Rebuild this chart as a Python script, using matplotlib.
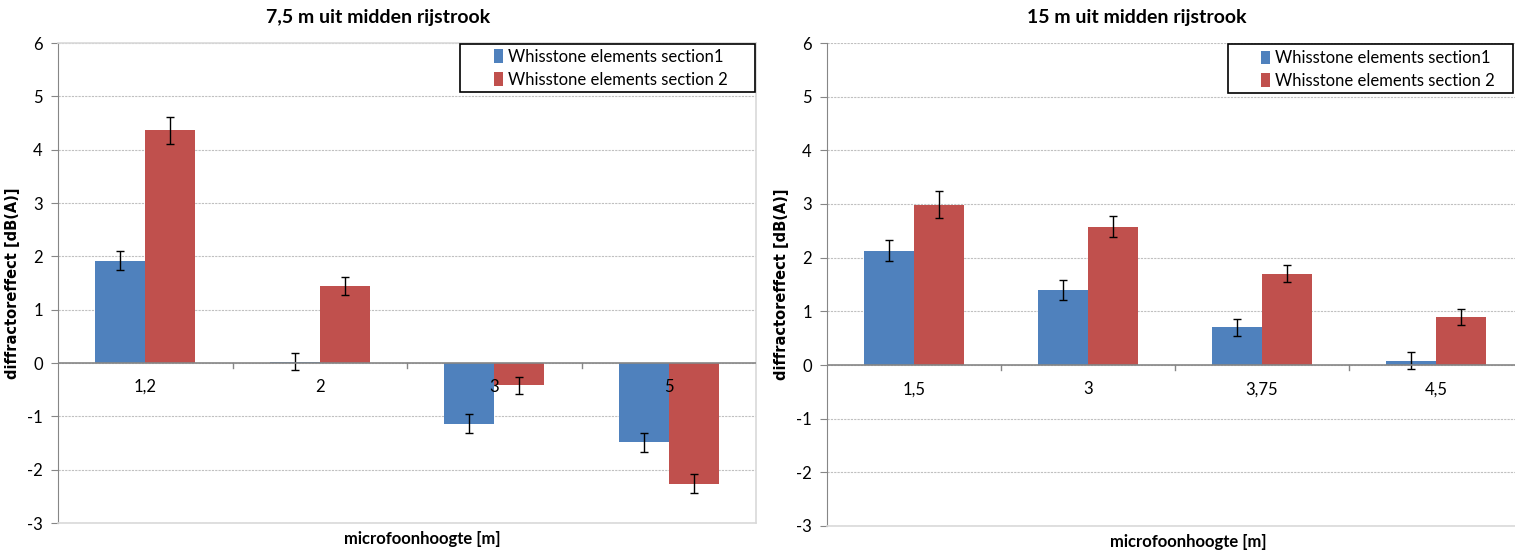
import matplotlib.pyplot as plt
import numpy as np
from matplotlib.patches import Rectangle

face = ['Lato', 'DejaVu Sans']

series_names = ['Whisstone elements section1', 'Whisstone elements section 2']

left_title = '7,5 m uit midden rijstrook'
left_cats = ['1,2', '2', '3', '5']
left_s1 = [1.92, 0.02, -1.14, -1.49]
left_s2 = [4.36, 1.44, -0.42, -2.26]
left_err1 = [0.18, 0.16, 0.18, 0.18]
left_err2 = [0.25, 0.17, 0.16, 0.17]

right_title = '15 m uit midden rijstrook'
right_cats = ['1,5', '3', '3,75', '4,5']
right_s1 = [2.13, 1.40, 0.70, 0.08]
right_s2 = [2.99, 2.58, 1.70, 0.90]
right_err1 = [0.19, 0.18, 0.16, 0.16]
right_err2 = [0.25, 0.20, 0.16, 0.15]

blue = '#4F81BD'
red = '#C0504D'

W, H = 1515, 552
fig = plt.figure(figsize=(W / 100, H / 100), dpi=100)


def panel(rect, cats, s1, s2, e1, e2, frame, legbox, legpos):
    ax = fig.add_axes(rect)
    x = np.arange(len(cats))
    w = 1 / 3.5
    ax.bar(x - w / 2, s1, w, color=blue, label=series_names[0], zorder=3)
    ax.bar(x + w / 2, s2, w, color=red, label=series_names[1], zorder=3)
    ax.errorbar(x - w / 2, s1, yerr=e1, fmt='none', ecolor='black',
                elinewidth=1, capsize=3, capthick=1, zorder=4)
    ax.errorbar(x + w / 2, s2, yerr=e2, fmt='none', ecolor='black',
                elinewidth=1, capsize=3, capthick=1, zorder=4)
    ax.set_xlim(-0.5, len(cats) - 0.5)
    ax.set_ylim(-3, 6)
    ax.set_yticks(range(-3, 7))
    ax.set_yticklabels([str(v) for v in range(-3, 7)], fontsize=12,
                       family=face)
    ax.yaxis.grid(True, linestyle=(0, (2, 1)), color='#c0c0c0',
                  linewidth=0.8, zorder=0)
    ax.tick_params(axis='y', length=5, color='#868686', pad=6)
    ax.set_xticks([])
    # zero axis with category boundary ticks
    ax.axhline(0, color='#868686', linewidth=1.2, zorder=5)
    for b in np.arange(0.5, len(cats) - 0.5, 1.0):
        ax.plot([b, b], [0, -0.1], color='#868686', linewidth=1, zorder=5)
    for i, c in enumerate(cats):
        ax.text(i, -0.45, c, ha='center', va='center', fontsize=12,
                family=face, zorder=6)
    ax.spines['left'].set_color('#868686')
    for s in ['top', 'right', 'bottom']:
        if frame or s == 'bottom':
            ax.spines[s].set_color('#d9d9d9')
            ax.spines[s].set_linewidth(1.2)
        else:
            ax.spines[s].set_visible(False)
    ax.set_ylabel('diffractoreffect [dB(A)]', fontsize=10.5,
                  fontweight='bold', labelpad=5)
    # legend frame drawn by hand so it can be wider than its entries
    x0, y0, x1, y1 = legbox
    ax.add_patch(Rectangle((x0, y0), x1 - x0, y1 - y0, transform=ax.transAxes,
                           facecolor='white', edgecolor='black',
                           linewidth=1.2, zorder=7, clip_on=False))
    leg = ax.legend(loc='center left', bbox_to_anchor=legpos, frameon=False,
                    prop={'family': face, 'size': 12}, borderpad=0,
                    handlelength=0.55, handleheight=0.9, handletextpad=0.3,
                    labelspacing=0.4, borderaxespad=0)
    leg.set_zorder(8)
    return ax


panel([58 / W, 1 - 523 / H, 698 / W, 480 / H], left_cats, left_s1, left_s2,
      left_err1, left_err2, True, (0.576, 0.898, 0.998, 0.998), (0.625, 0.947))
panel([827 / W, 1 - 526 / H, 696 / W, 483 / H], right_cats, right_s1,
      right_s2, right_err1, right_err2, False,
      (0.576, 0.896, 0.985, 0.998), (0.624, 0.945))

fig.text(378 / W, 1 - 17 / H, left_title, ha='center', va='center',
         fontsize=14, fontweight='bold', family=face)
fig.text(1137 / W, 1 - 17 / H, right_title, ha='center', va='center',
         fontsize=14, fontweight='bold', family=face)
fig.text(422 / W, 1 - 539 / H, 'microfoonhoogte [m]', ha='center',
         va='center', fontsize=12, fontweight='bold', family=face)
fig.text(1188 / W, 1 - 542 / H, 'microfoonhoogte [m]', ha='center',
         va='center', fontsize=12, fontweight='bold', family=face)

fig.savefig('out.png', dpi=100)
